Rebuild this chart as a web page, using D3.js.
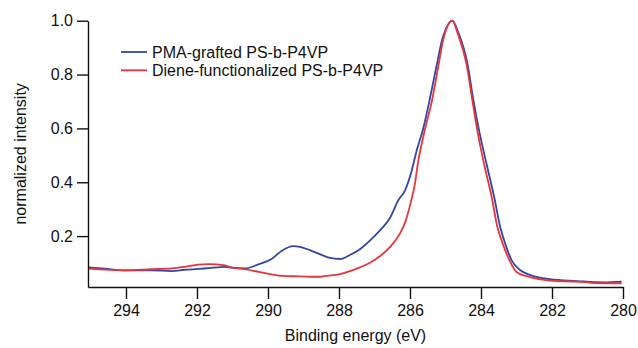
<!DOCTYPE html>
<html>
<head>
<meta charset="utf-8">
<script src="https://cdn.jsdelivr.net/npm/d3@7"></script>
<style>
  body { margin: 0; background: #fff; }
  text { font-family: "Liberation Sans", Arial, sans-serif; }
</style>
</head>
<body>
<div id="chart"></div>
<script>
// PMA-grafted PS-b-P4VP (blue)
const blueEnergy = [295.07, 294.6, 294.03, 293.28, 292.71, 292.34, 291.96, 291.68, 291.21, 291.02, 290.65, 290.27, 289.9, 289.61, 289.29, 289.1, 288.82, 288.54, 288.25, 287.97, 287.69, 287.41, 287.13, 286.84, 286.56, 286.33, 286.14, 285.95, 285.81, 285.64, 285.44, 285.25, 285.09, 284.99, 284.81, 284.64, 284.37, 284.22, 284.05, 283.84, 283.63, 283.46, 283.32, 283.14, 282.9, 282.62, 282.06, 281.3, 280.55, 280.04];
const blueIntensity = [0.084, 0.079, 0.073, 0.073, 0.07, 0.075, 0.078, 0.081, 0.086, 0.083, 0.08, 0.095, 0.115, 0.146, 0.163, 0.16, 0.148, 0.133, 0.119, 0.115, 0.13, 0.151, 0.183, 0.222, 0.268, 0.333, 0.37, 0.444, 0.519, 0.593, 0.71, 0.833, 0.932, 0.969, 1.0, 0.957, 0.833, 0.71, 0.59, 0.466, 0.346, 0.235, 0.173, 0.111, 0.074, 0.056, 0.04, 0.033, 0.028, 0.031];

// Diene-functionalized PS-b-P4VP (red)
const redEnergy = [295.07, 294.03, 293.28, 292.71, 292.34, 291.96, 291.68, 291.21, 291.02, 290.65, 290.27, 289.9, 289.61, 289.29, 288.82, 288.54, 288.25, 287.97, 287.69, 287.41, 287.13, 286.84, 286.56, 286.28, 286.14, 285.97, 285.86, 285.79, 285.59, 285.37, 285.2, 285.06, 284.96, 284.81, 284.66, 284.4, 284.25, 284.1, 283.91, 283.7, 283.54, 283.39, 283.2, 283.0, 282.62, 282.06, 281.3, 280.55, 280.04];
const redIntensity = [0.079, 0.073, 0.077, 0.08, 0.086, 0.094, 0.096, 0.091, 0.083, 0.077, 0.067, 0.058, 0.052, 0.051, 0.049, 0.049, 0.054, 0.059, 0.07, 0.084, 0.101, 0.126, 0.16, 0.21, 0.25, 0.33, 0.395, 0.46, 0.59, 0.71, 0.833, 0.932, 0.975, 1.0, 0.955, 0.833, 0.71, 0.59, 0.466, 0.346, 0.235, 0.173, 0.111, 0.067, 0.048, 0.035, 0.031, 0.025, 0.025];

const xTicks = [294, 292, 290, 288, 286, 284, 282, 280];
const yTicks = [0.2, 0.4, 0.6, 0.8, 1.0];

const seriesNames = ["PMA-grafted PS-b-P4VP", "Diene-functionalized PS-b-P4VP"];
const seriesColors = ["#3446a2", "#e8353b"];

const width = 638, height = 348;
const plotLeft = 88, plotRight = 623, plotTop = 20.7, plotBottom = 287;

const x = d3.scaleLinear().domain([295.07, 280]).range([plotLeft, plotRight]);
const y = d3.scaleLinear().domain([0.011, 1.0]).range([plotBottom, plotTop]);

const svg = d3.select("#chart")
    .append("svg")
    .attr("width", width)
    .attr("height", height);

const series = [
    { name: seriesNames[0], color: seriesColors[0], pts: blueEnergy.map((e, i) => [e, blueIntensity[i]]) },
    { name: seriesNames[1], color: seriesColors[1], pts: redEnergy.map((e, i) => [e, redIntensity[i]]) }
];

const line = d3.line()
    .x(d => x(d[0]))
    .y(d => y(d[1]))
    .curve(d3.curveMonotoneX);

// draw blue first, red on top
svg.append("g")
    .selectAll("path")
    .data(series)
    .join("path")
    .attr("fill", "none")
    .attr("stroke", d => d.color)
    .attr("stroke-width", 1.8)
    .attr("stroke-linejoin", "round")
    .attr("d", d => line(d.pts));

const xAxis = svg.append("g")
    .attr("transform", `translate(0,${plotBottom})`)
    .call(d3.axisBottom(x).tickValues(xTicks).tickSize(12).tickSizeOuter(0).tickPadding(6).tickFormat(d3.format("d")));

const yAxis = svg.append("g")
    .attr("transform", `translate(${plotLeft},0)`)
    .call(d3.axisLeft(y).tickValues(yTicks).tickSize(11).tickSizeOuter(0).tickPadding(4).tickFormat(d3.format(".1f")));

[xAxis, yAxis].forEach(g => {
    g.select(".domain").attr("stroke", "#111").attr("stroke-width", 1.4);
    g.selectAll(".tick line").attr("stroke", "#111").attr("stroke-width", 1.4);
    g.selectAll(".tick text").attr("font-size", 16).attr("fill", "#111")
        .style("font-family", "'Liberation Sans', Arial, sans-serif");
});

svg.append("text")
    .attr("x", (plotLeft + plotRight) / 2)
    .attr("y", 341)
    .attr("text-anchor", "middle")
    .attr("font-size", 16)
    .attr("fill", "#111")
    .text("Binding energy (eV)");

svg.append("text")
    .attr("transform", `translate(26,${(plotTop + plotBottom) / 2}) rotate(-90)`)
    .attr("text-anchor", "middle")
    .attr("font-size", 16)
    .attr("fill", "#111")
    .text("normalized intensity");

// legend
const legend = svg.append("g")
    .selectAll("g")
    .data(series)
    .join("g")
    .attr("transform", (d, i) => `translate(121,${52 + i * 18.3})`);

legend.append("line")
    .attr("x1", 0).attr("x2", 26)
    .attr("stroke", d => d.color)
    .attr("stroke-width", 1.8);

legend.append("text")
    .attr("x", 31)
    .attr("dy", "0.35em")
    .attr("font-size", 16)
    .attr("fill", "#111")
    .text(d => d.name);
</script>
</body>
</html>
